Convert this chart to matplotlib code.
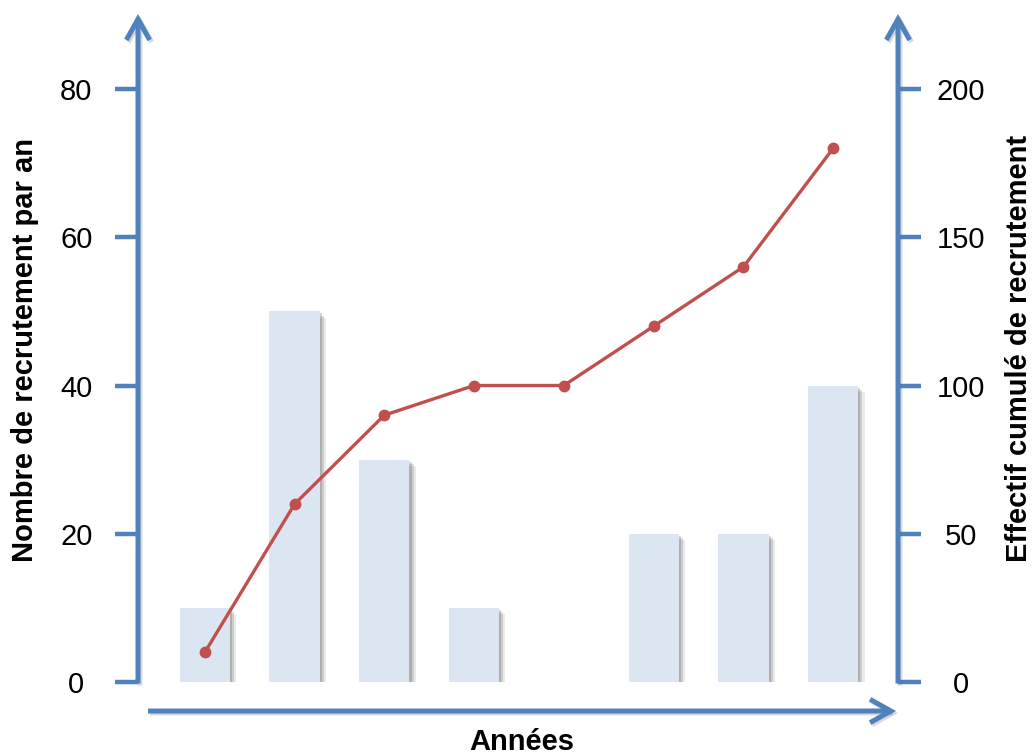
import matplotlib
matplotlib.use("Agg")
import matplotlib.pyplot as plt
import matplotlib.patheffects as pe
from matplotlib.patches import FancyArrowPatch

plt.rcParams['font.family'] = ['Liberation Sans', 'DejaVu Sans']

# data
annees = list(range(8))
recrutement = [10, 50, 30, 10, 0, 20, 20, 40]
cumul = [10, 60, 90, 100, 100, 120, 140, 180]
left_ticks = [0, 20, 40, 60, 80]
right_ticks = [0, 50, 100, 150, 200]

blue = '#4F81BD'
red = '#C0504D'
barcol = '#DCE6F2'

W, H = 1035, 754
fig = plt.figure(figsize=(W / 100, H / 100), dpi=100)

# axes box in pixel coords (top-left origin)
x0, x1 = 138, 898
y0, y1 = 682, 89
ax = fig.add_axes([x0 / W, (H - y0) / H, (x1 - x0) / W, (y0 - y1) / H])
ax2 = ax.twinx()

# soft shadow under the bars
shadow = [pe.SimplePatchShadow(offset=(1.5, -1.5), shadow_rgbFace='0.35', alpha=0.25),
          pe.SimplePatchShadow(offset=(3, -3), shadow_rgbFace='0.35', alpha=0.2),
          pe.SimplePatchShadow(offset=(4.5, -4.5), shadow_rgbFace='0.35', alpha=0.12),
          pe.Normal()]
bars = ax.bar(annees, recrutement, width=0.56, color=barcol, zorder=2)
for b, v in zip(bars, recrutement):
    if v > 0:
        b.set_path_effects(shadow)

ax2.plot(annees, cumul, color=red, lw=2.4, marker='o', ms=7.5, zorder=3)

ax.set_xlim(-(205 - x0) / 90, 7 + (x1 - 833) / 90)
ax.set_ylim(0, 80)
ax2.set_ylim(0, 200)
ax.set_yticks(left_ticks)
ax2.set_yticks(right_ticks)
ax.set_xticks([])

for a in (ax, ax2):
    for s in a.spines.values():
        s.set_visible(False)
    a.patch.set_visible(False)
    a.tick_params(axis='y', direction='out', length=16.5, width=3.2, color=blue,
                  labelsize=21)

for t in ax.get_yticklabels() + ax2.get_yticklabels():
    t.set_horizontalalignment('center')
ax.tick_params(axis='y', pad=28)
ax2.tick_params(axis='y', pad=29)


def arrow(p, q):
    pa = (p[0] / W, 1 - p[1] / H)
    pb = (q[0] / W, 1 - q[1] / H)
    style = '->,head_length=0.75,head_width=0.42'
    sh = FancyArrowPatch((pa[0] + 2 / W, pa[1] - 2 / H), (pb[0] + 2 / W, pb[1] - 2 / H),
                         transform=fig.transFigure, arrowstyle=style,
                         mutation_scale=20, lw=3.6, color='0.4', alpha=0.25,
                         shrinkA=0, shrinkB=0, capstyle='butt', joinstyle='miter')
    fig.add_artist(sh)
    ar = FancyArrowPatch(pa, pb, transform=fig.transFigure, arrowstyle=style,
                         mutation_scale=20, lw=3.6, color=blue,
                         shrinkA=0, shrinkB=0, capstyle='butt', joinstyle='miter')
    fig.add_artist(ar)


arrow((x0, y0 + 1.5), (x0, 14))
arrow((x1, y0 + 1.5), (x1, 14))
arrow((148, 711), (896, 711))

fig.text(25 / W, 1 - 350 / H, 'Nombre de recrutement par an', rotation=90,
         ha='center', va='center', fontsize=21, fontweight='bold')
fig.text(1019 / W, 1 - 348 / H, 'Effectif cumulé de recrutement', rotation=90,
         ha='center', va='center', fontsize=21, fontweight='bold')
fig.text(522 / W, 1 - 742 / H, 'Années', ha='center', va='center',
         fontsize=21, fontweight='bold')

fig.savefig('out.png', dpi=100)
